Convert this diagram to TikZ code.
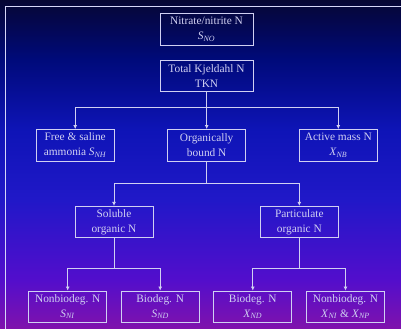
\documentclass[tikz,border=0pt]{standalone}
\usepackage{fontspec}
\setmainfont{Liberation Serif}
\usetikzlibrary{arrows.meta}
\definecolor{ink}{RGB}{208,208,242}
\definecolor{rim}{RGB}{214,214,248}
\definecolor{bgA}{RGB}{128,18,172}
\definecolor{bgB}{RGB}{82,14,204}
\definecolor{bgC}{RGB}{32,24,200}
\definecolor{bgD}{RGB}{14,20,182}
\definecolor{bgE}{RGB}{0,10,122}
\definecolor{bgF}{RGB}{6,6,52}
% the filled path covers 25bp..75bp of the shading
\pgfdeclareverticalshading{slide}{100bp}{color(0bp)=(bgA); color(25bp)=(bgA); color(32.6bp)=(bgB);
  color(44.8bp)=(bgC); color(55.4bp)=(bgD); color(66bp)=(bgE); color(75bp)=(bgF); color(100bp)=(bgF)}
\newcommand{\nvar}[2]{\textit{#1}\textsubscript{\textit{#2}}}

\begin{document}
\begin{tikzpicture}[x=1bp,y=-1bp,font=\fontsize{11.4}{15}\selectfont]
\tikzset{box/.style={draw=ink,text=ink,line width=0.8bp,minimum width=78bp,minimum height=31.5bp,align=center,inner sep=0pt},
         link/.style={draw=ink,line width=0.8bp},
         arr/.style={link,-{Latex[length=4bp,width=4bp]}}}

% slide background and frame
\fill[shading=slide] (0,0) rectangle (401,329);
\useasboundingbox (0,0) rectangle (401,329);
\draw[rim,line width=1.2bp] (401,6.5) -- (5.5,6.5) -- (5.5,329);

% top two boxes
\node[box,minimum width=93bp] (nitrate) at (206.5,29.3) {Nitrate/nitrite N\\\nvar{S}{NO}};
\node[box,minimum width=93bp] (tkn) at (206.5,75.7) {Total Kjeldahl N\\TKN};

% second row
\node[box] (free) at (75.2,145.2) {Free \& saline\\ammonia \nvar{S}{NH}};
\node[box] (organic) at (206.7,145.2) {Organically\\bound N};
\node[box] (active) at (338.3,145.2) {Active mass N\\\nvar{X}{NB}};

% third row
\node[box] (soluble) at (114,222) {Soluble\\organic N};
\node[box] (partic) at (299.3,222) {Particulate\\organic N};

% bottom row
\node[box] (snI) at (67.7,306.7) {Nonbiodeg. N\\\nvar{S}{NI}};
\node[box] (snD) at (160.2,306.7) {Biodeg. N\\\nvar{S}{ND}};
\node[box] (xnD) at (252.8,306.7) {Biodeg. N\\\nvar{X}{ND}};
\node[box] (xnI) at (345.5,306.7) {Nonbiodeg. N\\\nvar{X}{NI} \& \nvar{X}{NP}};

% branch points
\coordinate (j1) at (206.5,107.5);
\coordinate (j2) at (206.7,183.3);
\coordinate (j3) at (114,268.3);
\coordinate (j4) at (299.3,268.3);

\draw[link] (tkn) -- (j1);
\foreach \t in {free,organic,active} \draw[arr] (j1) -| (\t.north);
\draw[link] (organic) -- (j2);
\foreach \t in {soluble,partic} \draw[arr] (j2) -| (\t.north);
\draw[link] (soluble) -- (j3);
\foreach \t in {snI,snD} \draw[arr] (j3) -| (\t.north);
\draw[link] (partic) -- (j4);
\foreach \t in {xnD,xnI} \draw[arr] (j4) -| (\t.north);
\end{tikzpicture}
\end{document}
